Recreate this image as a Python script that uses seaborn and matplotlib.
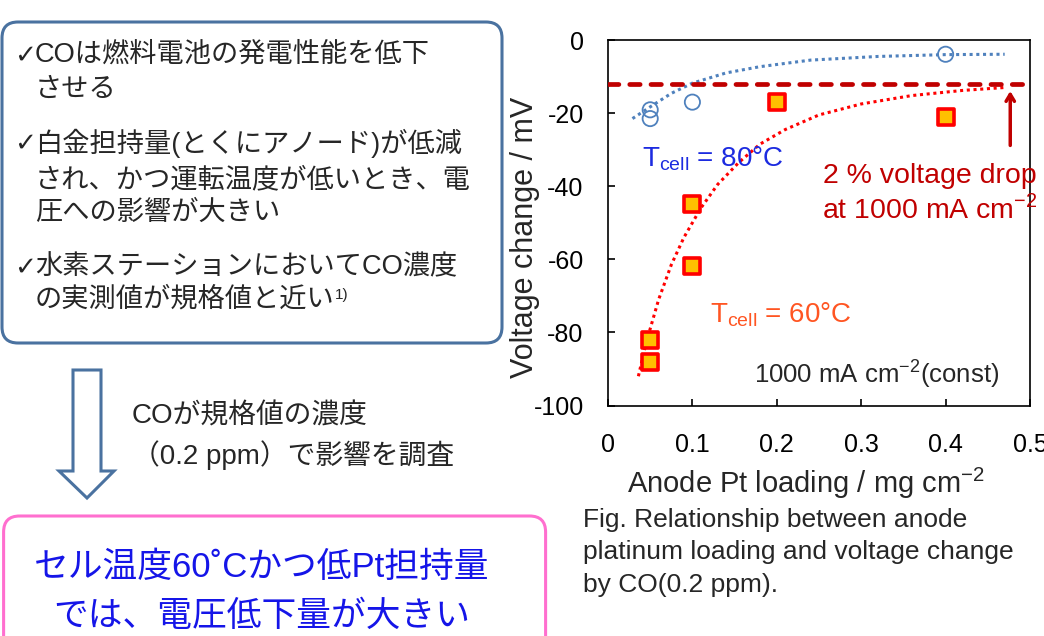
import matplotlib
matplotlib.use("Agg")
import matplotlib.pyplot as plt
from matplotlib.patches import FancyBboxPatch, Polygon
import seaborn as sns

sns.set_style("ticks")
plt.rcParams["font.family"] = ["Liberation Sans", "DejaVu Sans"]
plt.rcParams["mathtext.fontset"] = "custom"
plt.rcParams["mathtext.rm"] = "Liberation Sans"
plt.rcParams["axes.unicode_minus"] = False
jp = ["Liberation Sans", "Noto Sans CJK JP", "DejaVu Sans"]

# measured points (anode Pt loading / mg cm-2, voltage change / mV)
loading_80 = [0.05, 0.05, 0.1, 0.4]
dv_80 = [-19.1, -21.5, -17.0, -3.9]
loading_60 = [0.05, 0.05, 0.1, 0.1, 0.2, 0.4]
dv_60 = [-82.2, -88.2, -44.8, -61.9, -16.9, -21.0]

# trend lines
trend_80_x = [0.029, 0.05, 0.075, 0.10, 0.14, 0.18, 0.24, 0.32, 0.40, 0.47]
trend_80_y = [-21.5, -18.3, -14.6, -11.8, -9.0, -7.3, -5.5, -4.5, -4.0, -3.9]
trend_60_x = [0.036, 0.045, 0.06, 0.075, 0.09, 0.11, 0.13, 0.155, 0.18, 0.21,
              0.25, 0.30, 0.36, 0.42, 0.47]
trend_60_y = [-92, -83, -71, -61.5, -54, -46, -39.5, -33.5, -28.5, -24.5,
              -20.5, -17.5, -15.2, -13.8, -13]

drop_limit = -12.1  # 2 % voltage drop at 1000 mA cm-2

x_ticks = [0, 0.1, 0.2, 0.3, 0.4, 0.5]
x_ticklabels = ["0", "0.1", "0.2", "0.3", "0.4", "0.5"]
y_ticks = [-100, -80, -60, -40, -20, 0]
y_ticklabels = ["-100", "-80", "-60", "-40", "-20", "0"]

bullets = [
    ["COは燃料電池の発電性能を低下", "させる"],
    ["白金担持量(とくにアノード)が低減", "され、かつ運転温度が低いとき、電", "圧への影響が大きい"],
    ["水素ステーションにおいてCO濃度", "の実測値が規格値と近い"],
]
middle_text = ["COが規格値の濃度", "（0.2 ppm）で影響を調査"]
conclusion = ["セル温度60˚Cかつ低Pt担持量", "では、電圧低下量が大きい"]
caption = ["Fig. Relationship between anode",
           "platinum loading and voltage change",
           "by CO(0.2 ppm)."]

fig = plt.figure(figsize=(10.44, 6.36), dpi=100)

# full-figure layer in pixel units for the slide parts
bg = fig.add_axes([0, 0, 1, 1])
bg.set_xlim(0, 1044)
bg.set_ylim(636, 0)
bg.axis("off")

box_col = "#4a72a0"
bg.add_patch(FancyBboxPatch((2, 22), 500, 321, boxstyle="round,pad=0,rounding_size=16",
                            fc="none", ec=box_col, lw=2.2))
line_y = [[55, 90], [143, 180, 213], [267, 300]]
for lines, ys in zip(bullets, line_y):
    bg.text(14, ys[0] + 1, "✓", family="DejaVu Sans", fontweight="bold", fontsize=19,
            va="center", ha="left")
    for txt, y in zip(lines, ys):
        t = bg.text(35, y, txt, family=jp, fontsize=19.6, va="center", ha="left")
bg.annotate("1)", xy=(1.0, 0.95), xycoords=t, family=jp, fontsize=11, va="top", ha="left")

bg.add_patch(Polygon([(73, 370), (101, 370), (101, 471), (114, 471), (87, 498),
                      (59, 471), (73, 471)], closed=True, fc="white", ec=box_col, lw=2.2))
for txt, y in zip(middle_text, [416, 455]):
    bg.text(132, y, txt, family=jp, fontsize=20, va="center", ha="left")

bg.add_patch(FancyBboxPatch((3.6, 516), 542, 160, boxstyle="round,pad=0,rounding_size=16",
                            fc="none", ec="#ff6fcf", lw=2.2))
for txt, y in zip(conclusion, [568, 616]):
    bg.text(262, y, txt, family=jp, fontsize=25, color="#1515e8", va="center", ha="center")

for txt, y in zip(caption, [520, 552, 585]):
    bg.text(583, y, txt, fontsize=19, va="center", ha="left")

# chart
ax = fig.add_axes([608 / 1044, 1 - 405.5 / 636, 422 / 1044, 365.5 / 636])

sns.lineplot(x=trend_80_x, y=trend_80_y, ax=ax, color="#4f81bd", lw=2.2,
             linestyle=(0, (1, 1.2)), zorder=2)
sns.lineplot(x=trend_60_x, y=trend_60_y, ax=ax, color="#ff0000", lw=2.2,
             linestyle=(0, (1, 1.2)), zorder=2)
ax.axhline(drop_limit, color="#c00000", lw=3.4, dashes=(2.2, 2.3),
           dash_capstyle="round", zorder=3)

sns.scatterplot(x=loading_80, y=dv_80, ax=ax, marker="o", s=120,
                edgecolor="#4f81bd", linewidth=1.3, zorder=4)
ax.collections[-1].set_facecolor("none")
sns.scatterplot(x=loading_60, y=dv_60, ax=ax, marker="s", s=130, color="#ffc000",
                edgecolor="#ff0000", linewidth=2.6, zorder=5)

ax.set_xlim(0, 0.5)
ax.set_ylim(-100, 0)
ax.set_xticks(x_ticks)
ax.set_xticklabels(x_ticklabels)
ax.set_yticks(y_ticks)
ax.set_yticklabels(y_ticklabels)
ax.tick_params(direction="in", length=5, width=1.2, colors="black", labelsize=18)
ax.tick_params(axis="x", pad=20)
ax.tick_params(axis="y", pad=17.5)
for sp in ax.spines.values():
    sp.set_color("black")
    sp.set_linewidth(1.2)

ax.set_xlabel("Anode Pt loading / mg cm$^{\\mathregular{-2}}$", fontsize=21,
              ha="left", va="baseline")
ax.xaxis.set_label_coords(0.045, -0.240)
ax.set_ylabel("Voltage change / mV", fontsize=22, va="center", ha="center")
ax.yaxis.set_label_coords(-0.197, 0.459)

ax.text(0.040, -34.5, "T$_{\\mathregular{cell}}$ = 80°C", fontsize=20, color="#1c2be0",
        va="baseline", ha="left")
ax.text(0.121, -77.1, "T$_{\\mathregular{cell}}$ = 60°C", fontsize=20, color="#ff5522",
        va="baseline", ha="left")
ax.text(0.1726, -93.8, "1000 mA cm$^{\\mathregular{-2}}$(const)", fontsize=18.5,
        va="baseline", ha="left")
ax.text(0.3815, -39.0, "2 % voltage drop", fontsize=20.5, color="#c00000",
        va="baseline", ha="center")
ax.text(0.3815, -48.7, "at 1000 mA cm$^{\\mathregular{-2}}$", fontsize=20.5,
        color="#c00000", va="baseline", ha="center")
ax.annotate("", xy=(0.4766, -13.2), xytext=(0.4766, -29.6),
            arrowprops=dict(arrowstyle="->,head_length=0.5,head_width=0.3",
                            color="#c00000", lw=2.5))

fig.savefig("out.png", dpi=100)
